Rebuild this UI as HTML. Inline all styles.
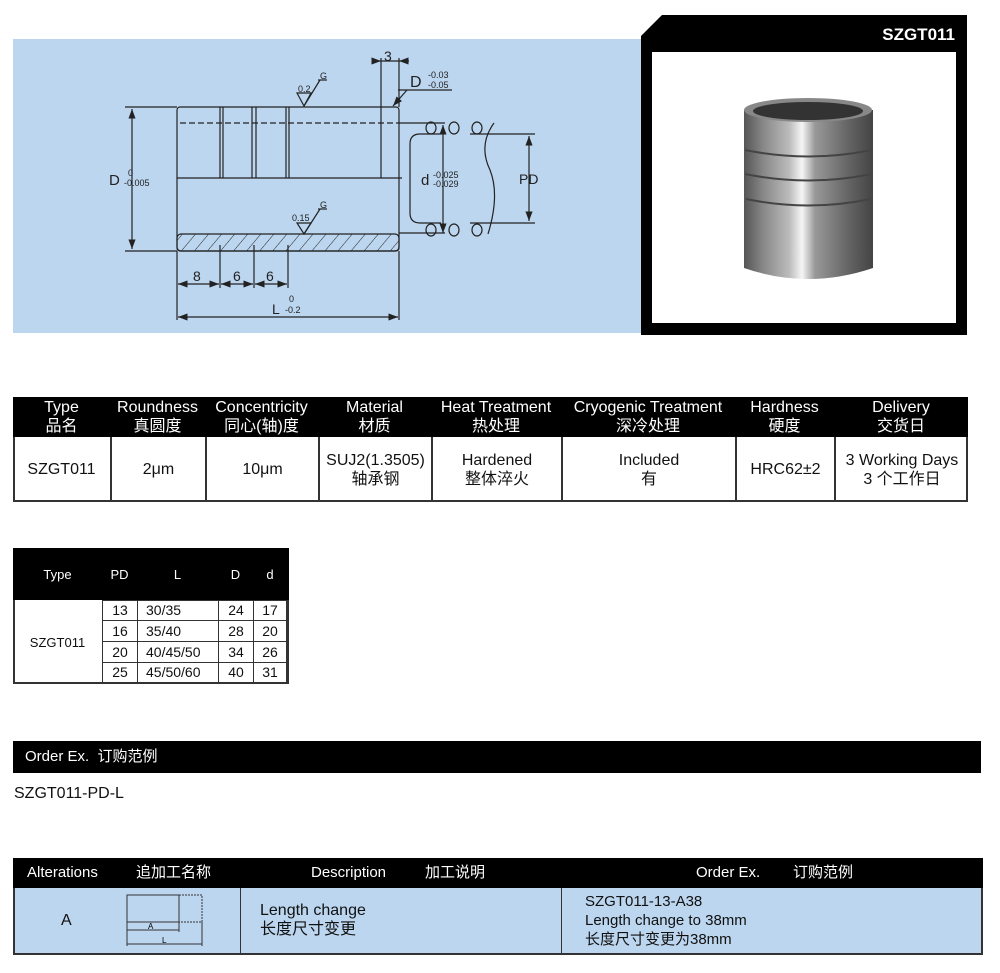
<!DOCTYPE html>
<html><head><meta charset="utf-8"><style>
*{margin:0;padding:0;box-sizing:border-box}
body{width:1000px;height:973px;background:#fff;position:relative;font-family:"Liberation Sans","Noto Sans CJK SC",sans-serif;color:#111;overflow:hidden}
.a{position:absolute}
.c{position:absolute;display:flex;flex-direction:column;align-items:center;justify-content:center;text-align:center;line-height:19px;font-size:16px}
.h{color:#fff;background:#000}
.b{border:1px solid #333}
</style></head><body>
<div class="a" style="left:13px;top:39px;width:628px;height:294px;background:#bcd6ef"></div>
<svg class="a" style="left:0;top:0" width="1000" height="340" font-family="Liberation Sans, sans-serif">
<defs><marker id="ar" markerWidth="8" markerHeight="6" refX="8" refY="3" orient="auto-start-reverse"><path d="M0,0 L8,3 L0,6z" fill="#222"/></marker>
<pattern id="ht" width="10" height="10" patternUnits="userSpaceOnUse" patternTransform="rotate(40)"><line x1="0" y1="0" x2="0" y2="10" stroke="#222" stroke-width="1"/></pattern></defs>
<g stroke="#222" stroke-width="1.2" fill="none">
<rect x="177" y="107" width="222" height="144" rx="3"/>
<line x1="177" y1="178" x2="402" y2="178"/>
<line x1="180" y1="123" x2="399" y2="123" stroke-dasharray="6,3"/>
<line x1="220" y1="107" x2="220" y2="178"/><line x1="223" y1="107" x2="223" y2="178"/>
<line x1="252" y1="107" x2="252" y2="178"/><line x1="256" y1="107" x2="256" y2="178"/>
<line x1="286" y1="107" x2="286" y2="178"/><line x1="289" y1="107" x2="289" y2="178"/>
<line x1="381" y1="58" x2="381" y2="178"/><line x1="399" y1="58" x2="399" y2="107"/>
<rect x="177" y="234" width="222" height="17" rx="4" fill="url(#ht)"/>
<line x1="399" y1="123" x2="445" y2="123"/><line x1="399" y1="233" x2="445" y2="233"/>
<line x1="125" y1="107" x2="177" y2="107"/><line x1="125" y1="251" x2="177" y2="251"/>
<line x1="132" y1="109" x2="132" y2="249" marker-start="url(#ar)" marker-end="url(#ar)"/>
<line x1="177" y1="251" x2="177" y2="320"/><line x1="399" y1="251" x2="399" y2="320"/>
<line x1="220" y1="245" x2="220" y2="288"/><line x1="254" y1="245" x2="254" y2="288"/><line x1="288" y1="245" x2="288" y2="288"/>
<line x1="178" y1="284" x2="219" y2="284" marker-start="url(#ar)" marker-end="url(#ar)"/>
<line x1="221" y1="284" x2="253" y2="284" marker-start="url(#ar)" marker-end="url(#ar)"/>
<line x1="255" y1="284" x2="287" y2="284" marker-start="url(#ar)" marker-end="url(#ar)"/>
<line x1="178" y1="317" x2="398" y2="317" marker-start="url(#ar)" marker-end="url(#ar)"/>
<line x1="372" y1="61" x2="381" y2="61" marker-end="url(#ar)"/><line x1="409" y1="61" x2="399" y2="61" marker-end="url(#ar)"/>
<line x1="381" y1="61" x2="399" y2="61"/>
<line x1="398" y1="90" x2="452" y2="90"/><line x1="407" y1="90" x2="393" y2="106" marker-end="url(#ar)"/>
<path d="M297,93 h14 l-7,13z"/><line x1="304" y1="106" x2="320" y2="80"/><line x1="318" y1="80" x2="327" y2="80"/>
<path d="M297,223 h14 l-7,11z"/><line x1="304" y1="234" x2="320" y2="209"/><line x1="318" y1="209" x2="327" y2="209"/>
<ellipse cx="431" cy="128" rx="5" ry="6"/><ellipse cx="454" cy="128" rx="5" ry="6"/><ellipse cx="477" cy="128" rx="5" ry="6"/>
<ellipse cx="431" cy="230" rx="5" ry="6"/><ellipse cx="454" cy="230" rx="5" ry="6"/><ellipse cx="477" cy="230" rx="5" ry="6"/>
<path d="M441,134 H420 Q410,134 410,144 V213 Q410,223 420,223 H441"/>
<line x1="443" y1="125" x2="443" y2="233" marker-start="url(#ar)" marker-end="url(#ar)"/>
<path d="M494,123 Q478,145 490,170 Q500,195 488,234"/>
<line x1="470" y1="134" x2="535" y2="134"/><line x1="470" y1="223" x2="535" y2="223"/>
<line x1="529" y1="136" x2="529" y2="221" marker-start="url(#ar)" marker-end="url(#ar)"/>
</g>
<g fill="#222" font-size="14">
<text x="384" y="61">3</text>
<text x="410" y="87" font-size="16">D</text><text x="428" y="78" font-size="9">-0.03</text><text x="428" y="88" font-size="9">-0.05</text>
<text x="109" y="185" font-size="15">D</text><text x="128" y="176" font-size="9">0</text><text x="124" y="186" font-size="9">-0.005</text>
<text x="298" y="92" font-size="9">0.2</text><text x="320" y="79" font-size="9">G</text>
<text x="292" y="221" font-size="9">0.15</text><text x="320" y="208" font-size="9">G</text>
<text x="421" y="185" font-size="15">d</text><text x="433" y="178" font-size="9">-0.025</text><text x="433" y="187" font-size="9">-0.029</text>
<text x="519" y="184">PD</text>
<text x="193" y="281">8</text><text x="233" y="281">6</text><text x="266" y="281">6</text>
<text x="272" y="314">L</text><text x="289" y="302" font-size="9">0</text><text x="285" y="313" font-size="9">-0.2</text>
</g>
<path d="M662,15 H967 V335 H641 V36z" fill="#000"/>
<rect x="652" y="52" width="304" height="271" fill="#fff"/>
<text x="955" y="40" fill="#fff" font-weight="bold" font-size="17" text-anchor="end">SZGT011</text>
<defs><linearGradient id="mg" x1="0" x2="1"><stop offset="0" stop-color="#555"/><stop offset=".15" stop-color="#888"/><stop offset=".35" stop-color="#bbb"/><stop offset=".45" stop-color="#f5f5f5"/><stop offset=".55" stop-color="#999"/><stop offset=".8" stop-color="#666"/><stop offset="1" stop-color="#444"/></linearGradient></defs>
<path d="M744,110 V268 Q808,290 873,268 V110z" fill="url(#mg)"/>
<ellipse cx="808" cy="110" rx="64" ry="12" fill="#888"/>
<ellipse cx="808" cy="111" rx="55" ry="9" fill="#333"/>
<g stroke="#444" stroke-width="2" fill="none"><path d="M745,150 Q808,163 872,150"/><path d="M745,174 Q808,187 872,174"/><path d="M746,199 Q808,212 871,199"/></g>
</svg>

<div class="a" style="left:13px;top:397px;width:955px;height:105px;border:2px solid #333"></div>
<div class="a h" style="left:13px;top:397px;width:955px;height:40px"></div>
<div class="c h" style="left:13px;top:397px;width:97px;height:40px">Type<br>品名</div>
<div class="c h" style="left:110px;top:397px;width:95px;height:40px">Roundness<br>真圆度</div>
<div class="c h" style="left:205px;top:397px;width:113px;height:40px">Concentricity<br>同心(轴)度</div>
<div class="c h" style="left:318px;top:397px;width:113px;height:40px">Material<br>材质</div>
<div class="c h" style="left:431px;top:397px;width:130px;height:40px">Heat Treatment<br>热处理</div>
<div class="c h" style="left:561px;top:397px;width:174px;height:40px">Cryogenic Treatment<br>深冷处理</div>
<div class="c h" style="left:735px;top:397px;width:99px;height:40px">Hardness<br>硬度</div>
<div class="c h" style="left:834px;top:397px;width:134px;height:40px">Delivery<br>交货日</div>
<div class="c" style="left:13px;top:437px;width:97px;height:65px">SZGT011</div>
<div class="c" style="left:110px;top:437px;width:95px;height:65px;border-left:2px solid #333">2μm</div>
<div class="c" style="left:205px;top:437px;width:113px;height:65px;border-left:2px solid #333">10μm</div>
<div class="c" style="left:318px;top:437px;width:113px;height:65px;border-left:2px solid #333">SUJ2(1.3505)<br>轴承钢</div>
<div class="c" style="left:431px;top:437px;width:130px;height:65px;border-left:2px solid #333">Hardened<br>整体淬火</div>
<div class="c" style="left:561px;top:437px;width:174px;height:65px;border-left:2px solid #333">Included<br>有</div>
<div class="c" style="left:735px;top:437px;width:99px;height:65px;border-left:2px solid #333">HRC62±2</div>
<div class="c" style="left:834px;top:437px;width:134px;height:65px;border-left:2px solid #333">3 Working Days<br>3 个工作日</div>

<div class="a" style="left:13px;top:548px;width:276px;height:136px;border:2px solid #333"></div>
<div class="a h" style="left:13px;top:548px;width:276px;height:52px"></div>
<div class="c h" style="left:13px;top:548px;width:89px;height:52px;font-size:13px">Type</div>
<div class="c h" style="left:102px;top:548px;width:35px;height:52px;font-size:13px">PD</div>
<div class="c h" style="left:137px;top:548px;width:81px;height:52px;font-size:13px">L</div>
<div class="c h" style="left:218px;top:548px;width:35px;height:52px;font-size:13px">D</div>
<div class="c h" style="left:253px;top:548px;width:34px;height:52px;font-size:13px">d</div>
<div class="c" style="left:13px;top:600px;width:89px;height:84px;font-size:13px">SZGT011</div>
<div class="a" style="left:102px;top:600px;width:187px;height:84px">
<table style="border-collapse:collapse;font-size:14px;width:185px;line-height:15px">
<tr style="height:20px"><td class="b" style="width:35px;text-align:center">13</td><td class="b" style="width:81px;padding-left:8px">30/35</td><td class="b" style="width:35px;text-align:center">24</td><td class="b" style="text-align:center">17</td></tr>
<tr style="height:21px"><td class="b" style="text-align:center">16</td><td class="b" style="padding-left:8px">35/40</td><td class="b" style="text-align:center">28</td><td class="b" style="text-align:center">20</td></tr>
<tr style="height:21px"><td class="b" style="text-align:center">20</td><td class="b" style="padding-left:8px">40/45/50</td><td class="b" style="text-align:center">34</td><td class="b" style="text-align:center">26</td></tr>
<tr style="height:20px"><td class="b" style="text-align:center">25</td><td class="b" style="padding-left:8px">45/50/60</td><td class="b" style="text-align:center">40</td><td class="b" style="text-align:center">31</td></tr>
</table></div>

<div class="a h" style="left:13px;top:741px;width:968px;height:32px;font-size:15px;line-height:32px;padding-left:12px">Order Ex.&nbsp; 订购范例</div>
<div class="a" style="left:14px;top:785px;font-size:16px">SZGT011-PD-L</div>

<div class="a" style="left:13px;top:858px;width:970px;height:97px;background:#bcd6ef;border:2px solid #333"></div>
<div class="a h" style="left:13px;top:858px;width:970px;height:30px;font-size:15px;line-height:30px">
<span class="a" style="left:14px">Alterations</span><span class="a" style="left:123px">追加工名称</span>
<span class="a" style="left:298px">Description</span><span class="a" style="left:412px">加工说明</span>
<span class="a" style="left:683px">Order Ex.</span><span class="a" style="left:780px">订购范例</span></div>
<div class="a" style="left:240px;top:888px;width:1px;height:67px;background:#333"></div>
<div class="a" style="left:561px;top:888px;width:1px;height:67px;background:#333"></div>
<div class="a" style="left:61px;top:912px;font-size:16px">A</div>
<svg class="a" style="left:120px;top:890px" width="85" height="60"><g stroke="#333" fill="none" stroke-width="1"><rect x="7" y="5" width="52" height="27"/><path d="M59,5 H82 V32 H59" stroke-dasharray="2,1"/><line x1="7" y1="32" x2="7" y2="56"/><line x1="82" y1="32" x2="82" y2="56"/><line x1="59" y1="32" x2="59" y2="42"/><line x1="7" y1="40" x2="59" y2="40"/><line x1="7" y1="54" x2="82" y2="54"/></g><text x="28" y="39" font-size="8">A</text><text x="42" y="53" font-size="8">L</text></svg>
<div class="a" style="left:260px;top:901px;font-size:16px;line-height:19px">Length change<br>长度尺寸变更</div>
<div class="a" style="left:585px;top:892px;font-size:15px;line-height:19px">SZGT011-13-A38<br>Length change to 38mm<br>长度尺寸变更为38mm</div>
</body></html>
